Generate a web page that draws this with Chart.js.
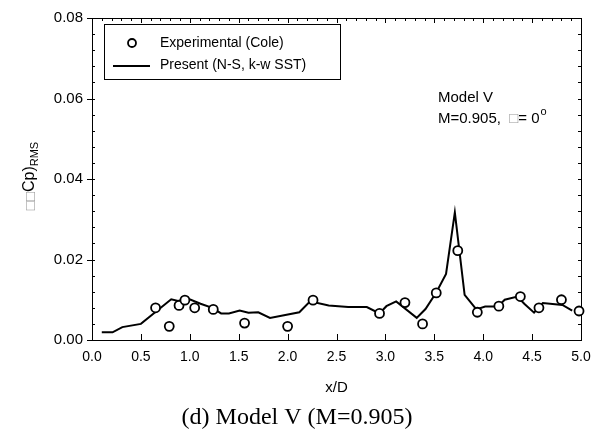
<!DOCTYPE html>
<html>
<head>
<meta charset="utf-8">
<script src="https://cdn.jsdelivr.net/npm/chart.js@4/dist/chart.umd.min.js"></script>
<style>
  html, body { margin: 0; padding: 0; background: #fff; }
  #wrap { width: 601px; height: 442px; position: relative; }
</style>
</head>
<body>
<div id="wrap"><canvas id="chart" width="601" height="442"></canvas></div>
<script>
// experimental data (Cole)
const expX = [0.65, 0.79, 0.89, 0.95, 1.05, 1.24, 1.56, 2.00, 2.26, 2.94, 3.20, 3.38, 3.52, 3.74, 3.94, 4.16, 4.38, 4.57, 4.80, 4.98];
const expY = [0.0080, 0.0034, 0.0086, 0.0099, 0.0080, 0.0076, 0.0042, 0.0034, 0.0099, 0.0066, 0.0093, 0.0040, 0.0117, 0.0222, 0.0069, 0.0084, 0.0108, 0.0080, 0.0100, 0.0072];

// present computation (N-S, k-w SST)
const simX = [0.10, 0.21, 0.31, 0.50, 0.81, 0.88, 0.98, 1.11, 1.23, 1.32, 1.40, 1.51, 1.60, 1.70, 1.82, 2.12, 2.23, 2.42, 2.62, 2.81, 2.94, 3.01, 3.11, 3.32, 3.41, 3.52, 3.62, 3.71, 3.81, 3.93, 4.02, 4.15, 4.22, 4.35, 4.42, 4.52, 4.61, 4.81, 4.91];
const simY = [0.0019, 0.0019, 0.0032, 0.0040, 0.0101, 0.0097, 0.0103, 0.0090, 0.0080, 0.0066, 0.0066, 0.0073, 0.0068, 0.0069, 0.0055, 0.0069, 0.0096, 0.0086, 0.0082, 0.0082, 0.0066, 0.0084, 0.0096, 0.0055, 0.0077, 0.0118, 0.0164, 0.0317, 0.0112, 0.0076, 0.0083, 0.0083, 0.0100, 0.0108, 0.0090, 0.0068, 0.0092, 0.0087, 0.0073];

const xTicks = [0, 0.5, 1, 1.5, 2, 2.5, 3, 3.5, 4, 4.5, 5];
const yTicks = [0, 0.02, 0.04, 0.06, 0.08];

const legendLabels = ["Experimental (Cole)", "Present (N-S, k-w SST)"];
const xTitle = "x/D";
const caption = "(d) Model V (M=0.905)";

const SANS = "'Liberation Sans', Arial, sans-serif";
const SERIF = "'Liberation Serif', 'Times New Roman', serif";

function pts(xs, ys) {
    return xs.map((x, i) => ({ x: x, y: ys[i] }));
}

// frame, ticks, legend and labels
const decor = {
    id: "decor",
    beforeDatasetsDraw(chart) {
        const c = chart.ctx;
        const a = chart.chartArea;
        const xs = chart.scales.x, ys = chart.scales.y;
        c.save();
        c.strokeStyle = "#000";
        c.lineWidth = 1;
        c.strokeRect(Math.round(a.left) + 0.5, Math.round(a.top) + 0.5, Math.round(a.right - a.left), Math.round(a.bottom - a.top));
        c.beginPath();
        // x ticks: majors inward at bottom, minor on top
        for (let i = 0; i <= 50; i++) {
            const v = i / 10;
            const px = Math.round(xs.getPixelForValue(v)) + 0.5;
            if (i % 5 === 0) {
                c.moveTo(px, a.bottom); c.lineTo(px, a.bottom - 6);
                c.moveTo(px, a.top); c.lineTo(px, a.top + 5);
            } else {
                c.moveTo(px, a.top); c.lineTo(px, a.top + 3);
            }
        }
        // y ticks: majors outward, minors inward
        for (let i = 0; i <= 20; i++) {
            const v = i * 0.004;
            const py = Math.round(ys.getPixelForValue(v)) + 0.5;
            c.moveTo(a.left, py); c.lineTo(a.left + 3, py);
            c.moveTo(a.right, py); c.lineTo(a.right - 3, py);
            if (i % 5 === 0) {
                c.moveTo(a.left, py); c.lineTo(a.left - 5, py);
            }
        }
        c.stroke();
        c.restore();
    },
    afterDraw(chart) {
        const c = chart.ctx;
        const a = chart.chartArea;
        c.save();
        c.fillStyle = "#000";
        c.textBaseline = "middle";

        // legend box
        c.strokeStyle = "#000";
        c.lineWidth = 1;
        c.strokeRect(104.5, 24.5, 236, 55);
        c.beginPath();
        c.arc(132, 43, 4, 0, Math.PI * 2);
        c.fillStyle = "#fff";
        c.fill();
        c.lineWidth = 1.8;
        c.stroke();
        c.beginPath();
        c.lineWidth = 2;
        c.moveTo(113, 66); c.lineTo(150, 66);
        c.stroke();
        c.fillStyle = "#000";
        c.font = "14px " + SANS;
        c.textAlign = "left";
        c.fillText(legendLabels[0], 160, 43);
        c.fillText(legendLabels[1], 160, 65);

        // annotation
        c.font = "15px " + SANS;
        c.fillText("Model V", 438, 98);
        let t1 = "M=0.905,  ";
        c.fillText(t1, 438, 119);
        let x = 438 + c.measureText(t1).width;
        c.fillStyle = "#999";
        c.fillText("\u25A1", x, 119);
        x += c.measureText("\u25A1").width;
        c.fillStyle = "#000";
        c.fillText("= 0", x, 119);
        x += c.measureText("= 0").width + 1;
        c.font = "11px " + SANS;
        c.fillText("o", x, 112);

        // y axis title
        c.save();
        c.translate(30, 176);
        c.rotate(-Math.PI / 2);
        c.textAlign = "left";
        const main = "Cp)";
        c.font = "15px " + SANS;
        const boxW = c.measureText("\u25A1\u25A1").width;
        c.font = "16px " + SANS;
        const mainW = c.measureText(main).width;
        c.font = "11px " + SANS;
        const subW = c.measureText("RMS").width;
        let sx = -(boxW + mainW + subW) / 2;
        c.font = "15px " + SANS;
        c.fillStyle = "#999";
        c.fillText("\u25A1\u25A1", sx, 1);
        sx += boxW;
        c.fillStyle = "#000";
        c.font = "16px " + SANS;
        c.fillText(main, sx, 0);
        sx += mainW;
        c.font = "11px " + SANS;
        c.fillText("RMS", sx, 5);
        c.restore();

        // x title and caption
        c.textAlign = "center";
        c.font = "15px " + SANS;
        c.fillText(xTitle, (a.left + a.right) / 2, 388);
        c.font = "24px " + SERIF;
        c.fillText(caption, 297, 418);
        c.restore();
    }
};

const ctx = document.getElementById("chart");
new Chart(ctx, {
    type: "scatter",
    data: {
        datasets: [
            {
                label: legendLabels[0],
                data: pts(expX, expY),
                pointRadius: 4.5,
                pointBackgroundColor: "#fff",
                pointBorderColor: "#000",
                pointBorderWidth: 1.8,
                showLine: false,
                clip: false,
                order: 0
            },
            {
                label: legendLabels[1],
                data: pts(simX, simY),
                showLine: true,
                borderColor: "#000",
                borderWidth: 2,
                pointRadius: 0,
                tension: 0,
                order: 1
            }
        ]
    },
    options: {
        responsive: false,
        animation: false,
        layout: { padding: { top: 15, right: 20, left: 0, bottom: 0 } },
        plugins: { legend: { display: false }, tooltip: { enabled: false } },
        scales: {
            x: {
                type: "linear",
                min: 0, max: 5,
                afterBuildTicks: s => { s.ticks = xTicks.map(v => ({ value: v })); },
                afterFit: s => { s.height = 102; },
                grid: { display: false, drawTicks: false },
                border: { display: false },
                ticks: {
                    padding: 9,
                    color: "#000",
                    font: { family: SANS, size: 14 },
                    maxRotation: 0,
                    callback: v => Number(v).toFixed(1)
                }
            },
            y: {
                type: "linear",
                min: 0, max: 0.08,
                afterBuildTicks: s => { s.ticks = yTicks.map(v => ({ value: v })); },
                afterFit: s => { s.width = 92; },
                grid: { display: false, drawTicks: false },
                border: { display: false },
                ticks: {
                    padding: 9,
                    color: "#000",
                    font: { family: SANS, size: 15 },
                    callback: v => Number(v).toFixed(2)
                }
            }
        }
    },
    plugins: [decor]
});
</script>
</body>
</html>
